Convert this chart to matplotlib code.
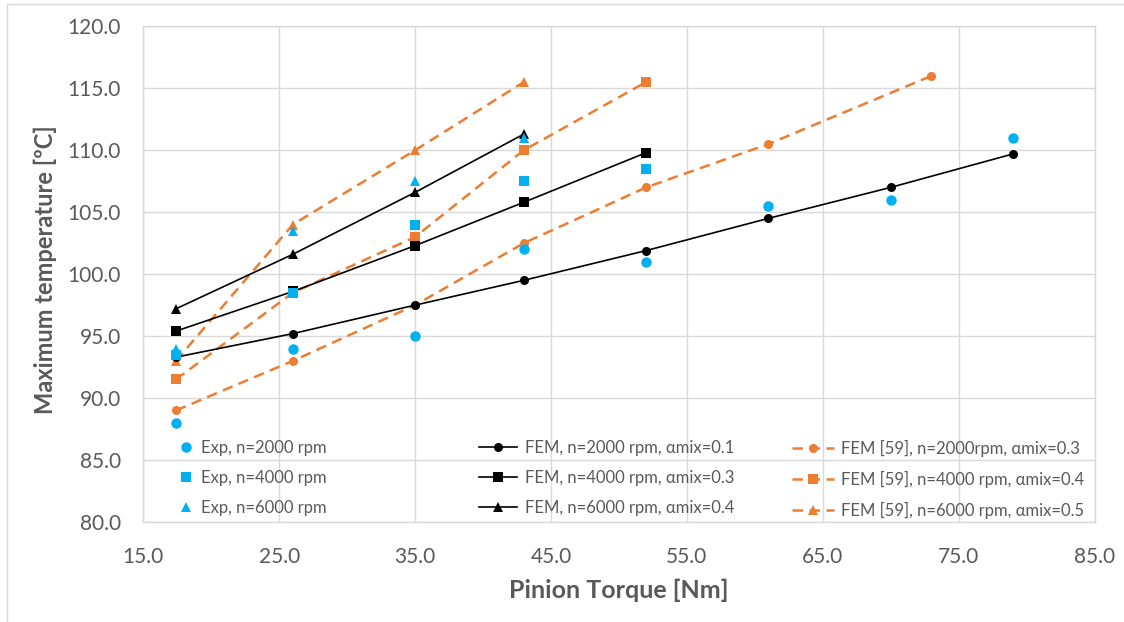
import matplotlib
matplotlib.use("Agg")
import matplotlib.pyplot as plt
from matplotlib.patches import Rectangle

plt.rcParams['font.family'] = ['Lato', 'DejaVu Sans']

# ---- data ----
x_2000 = [17.4, 26, 35, 43, 52, 61, 70, 79]
x_4000 = [17.4, 26, 35, 43, 52]
x_6000 = [17.4, 26, 35, 43]
x_ref_2000 = [17.4, 26, 35, 43, 52, 61, 73]

exp_2000 = [88.0, 94.0, 95.0, 102.0, 101.0, 105.5, 106.0, 111.0]
exp_4000 = [93.5, 98.5, 104.0, 107.5, 108.5]
exp_6000 = [94.0, 103.5, 107.5, 111.0]

fem_2000 = [93.3, 95.2, 97.5, 99.5, 101.9, 104.5, 107.0, 109.7]
fem_4000 = [95.4, 98.6, 102.3, 105.8, 109.8]
fem_6000 = [97.2, 101.6, 106.6, 111.3]

ref_2000 = [89.0, 93.0, 97.5, 102.5, 107.0, 110.5, 116.0]
ref_4000 = [91.5, 98.5, 103.0, 110.0, 115.5]
ref_6000 = [93.0, 104.0, 110.0, 115.5]

labels_exp = ["Exp, n=2000 rpm", "Exp, n=4000 rpm", "Exp, n=6000 rpm"]
labels_fem = ["FEM, n=2000 rpm, \u03b1mix=0.1", "FEM, n=4000 rpm, \u03b1mix=0.3",
              "FEM, n=6000 rpm, \u03b1mix=0.4"]
labels_ref = ["FEM [59], n=2000rpm, \u03b1mix=0.3", "FEM [59], n=4000 rpm, \u03b1mix=0.4",
              "FEM [59], n=6000 rpm, \u03b1mix=0.5"]

x_ticks = [15, 25, 35, 45, 55, 65, 75, 85]
y_ticks = [80, 85, 90, 95, 100, 105, 110, 115, 120]

CYAN = '#00B0F0'
ORANGE = '#ED7D31'
GRAY = '#595959'
GRID = '#D9D9D9'

W, H = 1124, 622
AX_L, AX_R, AX_T, AX_B = 143.3, 1094.5, 26.3, 522.0
fig = plt.figure(figsize=(W / 100, H / 100), dpi=100)
ax = fig.add_axes([AX_L / W, 1 - AX_B / H, (AX_R - AX_L) / W, (AX_B - AX_T) / H])

# outer chart border
fig.add_artist(Rectangle((7 / W, -0.1), 1.2, 1 - 4 / H + 0.1, transform=fig.transFigure,
                         fill=False, edgecolor=GRID, lw=1.0))

dash = (4.2, 2.6)
# FEM [59] (orange dashed)
h_ref = []
for xs, ys, m, ms in [(x_ref_2000, ref_2000, 'o', 6.5), (x_4000, ref_4000, 's', 6.5),
                      (x_6000, ref_6000, '^', 6.5)]:
    l, = ax.plot(xs, ys, color=ORANGE, lw=1.8, linestyle=(0, dash), marker=m, ms=ms,
                 markeredgewidth=0, zorder=3)
    h_ref.append(l)

# FEM (black solid)
h_fem = []
for xs, ys, m, ms in [(x_2000, fem_2000, 'o', 6.5), (x_4000, fem_4000, 's', 6.5),
                      (x_6000, fem_6000, '^', 7.5)]:
    l, = ax.plot(xs, ys, color='black', lw=1.2, marker=m, ms=ms, markeredgewidth=0, zorder=4)
    h_fem.append(l)

# Exp (cyan markers)
h_exp = []
for xs, ys, m, ms in [(x_2000, exp_2000, 'o', 7.5), (x_4000, exp_4000, 's', 7),
                      (x_6000, exp_6000, '^', 7.5)]:
    l, = ax.plot(xs, ys, color=CYAN, lw=0, marker=m, ms=ms, markeredgewidth=0, zorder=5)
    h_exp.append(l)

ax.set_xlim(15, 85)
ax.set_ylim(80, 120)
ax.set_xticks(x_ticks)
ax.set_yticks(y_ticks)
ax.set_xticklabels([f"{v:.1f}" for v in x_ticks])
ax.set_yticklabels([f"{v:.1f}" for v in y_ticks])
ax.tick_params(axis='both', length=0, labelsize=15, labelcolor=GRAY)
ax.tick_params(axis='x', pad=18)
ax.tick_params(axis='y', pad=16)
ax.grid(True, color=GRID, lw=1.0, zorder=0)
ax.set_axisbelow(True)
for s in ax.spines.values():
    s.set_color(GRID)
    s.set_linewidth(1.0)

ax.set_xlabel("Pinion Torque [Nm]", fontsize=18, fontweight='bold', color=GRAY)
ax.set_ylabel("Maximum temperature [\u00baC]", fontsize=17, fontweight='bold', color=GRAY)
ax.xaxis.label.set_va('center')
ax.yaxis.label.set_va('center')
ax.xaxis.set_label_coords((619 - AX_L) / (AX_R - AX_L), -(590 - AX_B) / (AX_B - AX_T))
ax.yaxis.set_label_coords(-(AX_L - 45) / (AX_R - AX_L), (AX_B - 270) / (AX_B - AX_T))


def make_legend(handles, labels, x_px, hl):
    leg = fig.legend(handles, labels, loc='upper left',
                     bbox_to_anchor=(x_px / W, 1 - 439.5 / H), frameon=False,
                     fontsize=12, labelcolor=GRAY, handlelength=hl, handletextpad=0.45,
                     labelspacing=0.84, borderpad=0, borderaxespad=0)
    return leg


l1 = make_legend(h_exp, labels_exp, 179, 0.9)
l2 = make_legend(h_fem, labels_fem, 479, 2.3)
l3 = make_legend(h_ref, labels_ref, 792, 2.5)

fig.savefig("out.png", dpi=100)
